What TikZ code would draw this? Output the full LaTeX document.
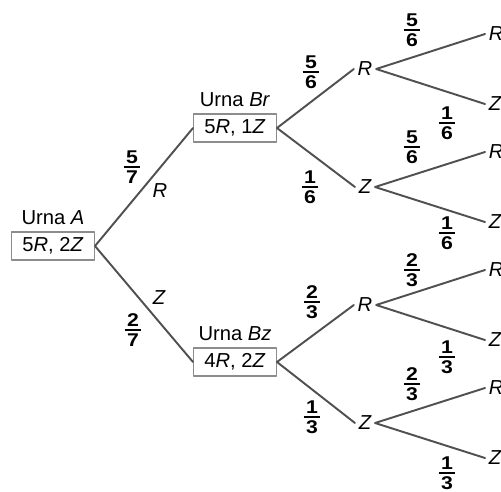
\documentclass[tikz,border=0pt]{standalone}
\usepackage{graphicx}
\usepackage{fontspec}
\setmainfont{Liberation Sans}
\usetikzlibrary{positioning}
\newcommand{\frc}[2]{\scalebox{1.15}[1]{\bfseries\fontsize{10.5}{11}\selectfont
  \vbox{\halign{\hfil\kern1.2pt##\kern1.2pt\hfil\cr#1\cr\noalign{\kern1.6pt\hrule height0.9pt\kern1.6pt}#2\cr}}}}
\definecolor{branchgray}{HTML}{505050}
\definecolor{boxgray}{HTML}{8C8C8C}

\begin{document}
\begin{tikzpicture}[x=0.02cm, y=-0.02cm, font=\fontsize{11.5}{13}\selectfont, line join=round, line cap=round,
  urn/.style={draw=boxgray, line width=0.8pt, minimum width=47pt, minimum height=16pt, inner sep=2pt},
  ball/.style={inner sep=2pt, font=\fontsize{11.5}{13}\selectfont\itshape},
  leaf/.style={ball, anchor=west},
  branch/.style={draw=branchgray, line width=1.1pt}]
\useasboundingbox (0,0) rectangle (501,491);

% urns
\node[urn] (A) at (53,246) {5\textit{R}, 2\textit{Z}};
\node[above=0pt of A] (tA) {Urna \textit{A}};
\node[urn] (Br) at (235,128) {5\textit{R}, 1\textit{Z}};
\node[above=0pt of Br] (tBr) {Urna \textit{Br}};
\node[urn] (Bz) at (235,362) {4\textit{R}, 2\textit{Z}};
\node[above=0pt of Bz] (tBz) {Urna \textit{Bz}};

% second draw
\node[ball] (r1) at (365,69) {R};
\node[ball] (z1) at (365,187) {Z};
\node[ball] (r2) at (365,305) {R};
\node[ball] (z2) at (365,423) {Z};

\draw[branch] (A.east) -- (Br.west) (A.east) -- (Bz.west)
  (Br.east) -- (r1.west) (Br.east) -- (z1.west)
  (Bz.east) -- (r2.west) (Bz.east) -- (z2.west);

% third draw
\foreach \p/\y in {r1/69,z1/187,r2/305,z2/423}{
  \node[leaf] (\p r) at (485,\y-35) {R};
  \node[leaf] (\p z) at (485,\y+35) {Z};
  \draw[branch] (\p.east) -- (\p r.west) (\p.east) -- (\p z.west);
}

% probabilities
\foreach \x/\y/\n/\d [count=\i] in {132/167/5/7, 133/330/2/7, 311/72/5/6, 310/187/1/6, 312/302/2/3, 312/417/1/3,
    412/30/5/6, 447/123/1/6, 412/147/5/6, 447/233/1/6, 412/270/2/3, 447/357/1/3, 412/384/2/3, 447/473/1/3}
  \node (f\i) at (\x,\y) {\frc{\n}{\d}};
\node[ball] (lR) at (160,191) {R};
\node[ball] (lZ) at (159,298) {Z};
\end{tikzpicture}
\end{document}
